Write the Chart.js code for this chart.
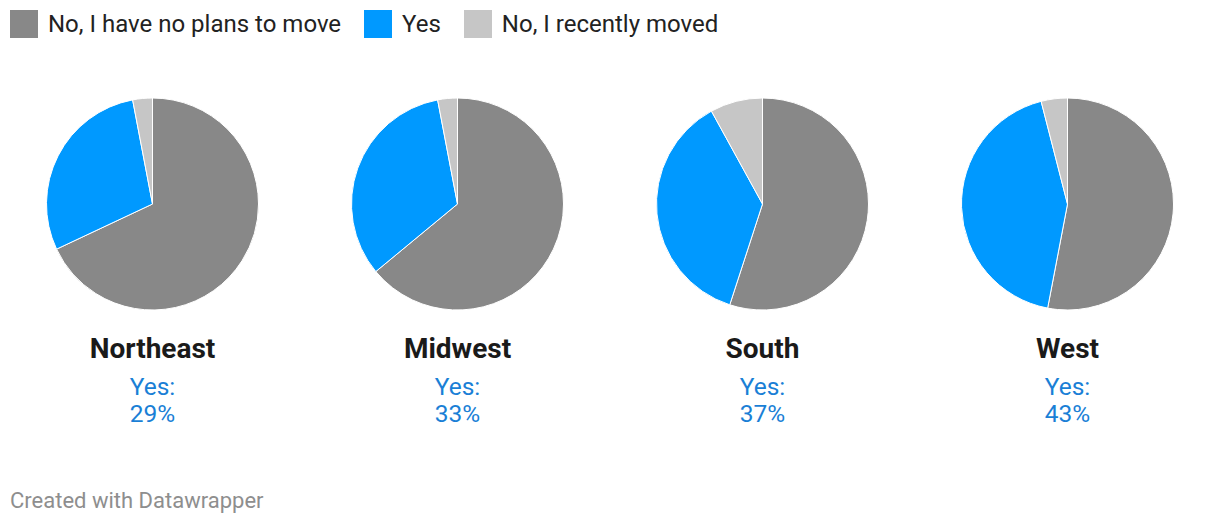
<!DOCTYPE html>
<html>
<head>
<meta charset="utf-8">
<script src="https://cdn.jsdelivr.net/npm/chart.js@4"></script>
<style>
  body { margin: 0; width: 1220px; height: 524px; background: #fff; font-family: Roboto, sans-serif; position: relative; overflow: hidden; }
  .legend { position: absolute; left: 10px; top: 10px; display: flex; align-items: center; font-size: 24px; color: #222; height: 28px; }
  .legend .item { display: flex; align-items: center; margin-right: 23px; }
  .legend .box { width: 28px; height: 28px; margin-right: 10px; }
  .col { position: absolute; top: 92px; width: 305px; text-align: center; }
  .col .wrap { position: relative; width: 305px; height: 224px; }
  .col h2 { margin: 0; margin-top: 18px; font-size: 28px; font-weight: 700; color: #1a1a1a; line-height: 30px; }
  .col .yes { color: #1a7fd6; font-size: 24.5px; line-height: 27px; margin-top: 9px; }
  .footer { position: absolute; left: 10px; top: 488px; font-size: 22px; color: #8e8e8e; }
</style>
</head>
<body>
<div class="legend" id="legend"></div>
<div id="pies"></div>
<div class="footer">Created with Datawrapper</div>
<script>
// --- DATA ---
const regions = ["Northeast", "Midwest", "South", "West"];
const seriesNames = ["No, I have no plans to move", "Yes", "No, I recently moved"];
const noPlans = [68, 64, 55, 53];
const yes = [29, 33, 37, 43];
const recentlyMoved = [3, 3, 8, 4];
const colors = ["#888888", "#0099ff", "#c6c6c6"];

// legend
const legend = document.getElementById("legend");
seriesNames.forEach((name, i) => {
    const item = document.createElement("div");
    item.className = "item";
    item.innerHTML = `<span class="box" style="background:${colors[i]}"></span><span>${name}</span>`;
    legend.appendChild(item);
});

// one pie per region
const pies = document.getElementById("pies");
regions.forEach((region, i) => {
    const col = document.createElement("div");
    col.className = "col";
    col.style.left = (i * 305) + "px";
    col.innerHTML = `<div class="wrap"><canvas id="pie${i}"></canvas></div>
        <h2>${region}</h2>
        <div class="yes">Yes:<br>${yes[i]}%</div>`;
    pies.appendChild(col);

    new Chart(document.getElementById("pie" + i), {
        type: "pie",
        data: {
            labels: seriesNames,
            datasets: [{
                data: [noPlans[i], yes[i], recentlyMoved[i]],
                backgroundColor: colors,
                borderColor: "#ffffff",
                borderWidth: 1
            }]
        },
        options: {
            responsive: true, maintainAspectRatio: false, animation: false,
            radius: 106,
            plugins: { legend: { display: false }, tooltip: { enabled: false } }
        }
    });
});
</script>
</body>
</html>
